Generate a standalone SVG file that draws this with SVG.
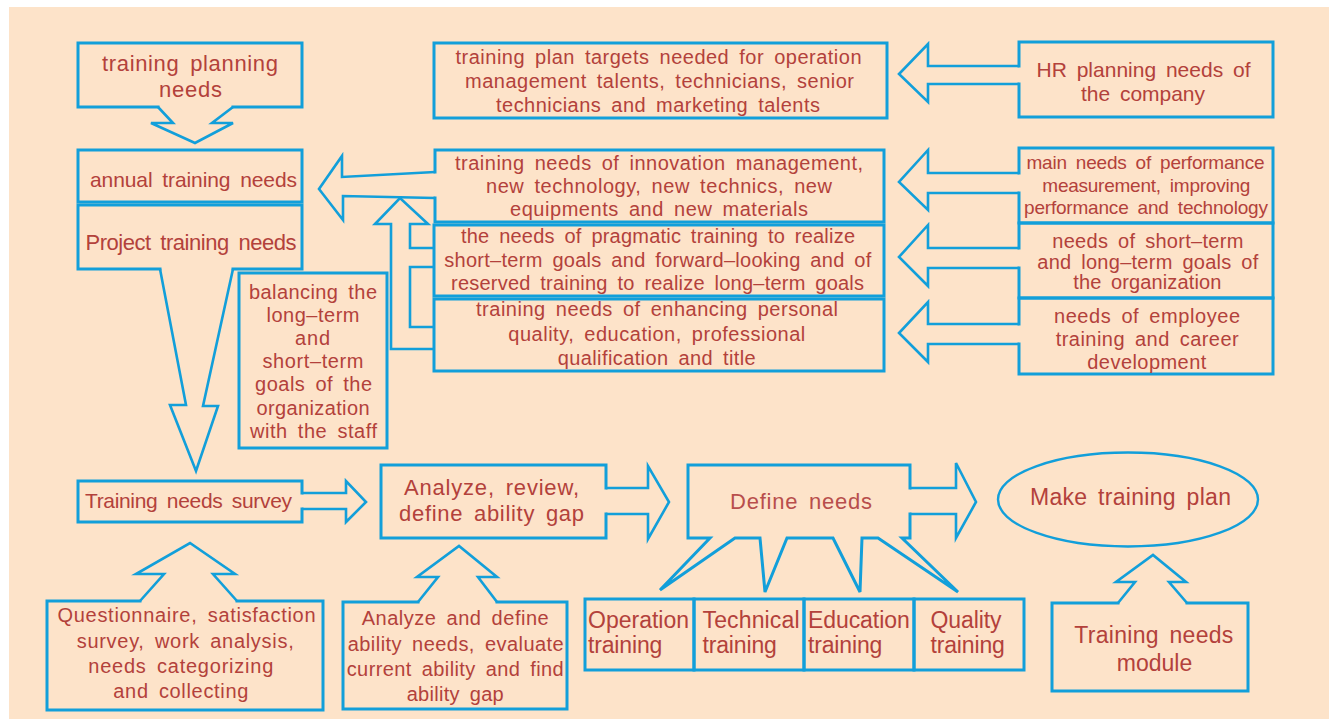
<svg xmlns="http://www.w3.org/2000/svg" width="1329" height="719" viewBox="0 0 1329 719">
<style>
.b{fill:none;stroke:#129FDA;stroke-width:3;stroke-linejoin:miter;stroke-linecap:square}
.a{fill:none;stroke:#129FDA;stroke-width:2.6;stroke-linejoin:miter;stroke-linecap:butt}
text{font-family:"Liberation Sans",Arial,Helvetica,sans-serif;fill:#B3413B;word-spacing:4px}
.s19{font-size:19px}.s20{font-size:20px}.s21{font-size:21px}.s22{font-size:22px}.s23{font-size:23px}
</style>
<rect x="0" y="0" width="1329" height="719" fill="#ffffff"/>
<rect x="9" y="7" width="1320" height="712" fill="#FDE3C9"/>

<g id="connectors">
<path class="a" d="M158,107 L173,123 H151 L195,143 L233,123 H212 L233,107"/>
<path class="a" d="M160,269 L186,405 H170 L196,471 L218,406 H203 L233,269"/>
<path class="a" d="M435,172 L342,177 V156 L319,189 L343,220 V196 L435,198"/>
<path class="a" d="M434,349 H391 V224 H375 L400,198 L428,224 H410 V248 H434 M434,267 H410 V327 H434"/>
<path class="a" d="M1019,66 H928 V44 L899,74 L928,102 V84 H1019"/>
<path class="a" d="M1019,173 H928 V150 L899,182 L928,210 V193 H1019"/>
<path class="a" d="M1019,248 H928 V225 L899,257 L928,286 V268 H1019"/>
<path class="a" d="M1019,324 H928 V302 L899,333 L928,362 V344 H1019"/>
<path class="a" d="M302,493 H346 V481 L366,502 L346,522 V509 H302"/>
<path class="a" d="M606,488 H648 V466 L669,502 L648,539 V514 H606"/>
<path class="a" d="M910,488 H956 V463 L976,502 L956,538 V514 H910"/>
<path class="a" d="M140,601 L164,574 H136 L190,543 L235,574 H213 L237,601"/>
<path class="a" d="M418,602 L438,577 H417 L459,546 L497,577 H478 L497,602"/>
<path class="a" d="M1118,603 L1135,582 H1116 L1153,555 L1186,582 H1169 L1187,603"/>
</g>

<g id="n-planning">
<path class="b" d="M158,107 H78 V43 H302 V107 H233"/>
<text class="s22" x="102" y="71" textLength="176" lengthAdjust="spacing">training planning</text>
<text class="s22" x="159" y="96.5" textLength="63" lengthAdjust="spacing">needs</text>
</g>
<g id="n-annual">
<rect class="b" x="78" y="150" width="224" height="52"/>
<text class="s21" x="90" y="186.5" textLength="207" lengthAdjust="spacing">annual training needs</text>
</g>
<g id="n-project">
<path class="b" d="M160,269 H78 V205 H302 V269 H233"/>
<text class="s22" x="85.5" y="250" textLength="211" lengthAdjust="spacing">Project training needs</text>
</g>
<g id="n-balancing">
<rect class="b" x="239" y="273" width="148" height="175"/>
<text class="s20" x="249" y="299" textLength="128" lengthAdjust="spacing">balancing the</text>
<text class="s20" x="266.5" y="321.5" textLength="93" lengthAdjust="spacing">long–term</text>
<text class="s20" x="295" y="345" textLength="35" lengthAdjust="spacing">and</text>
<text class="s20" x="262.5" y="368.3" textLength="101" lengthAdjust="spacing">short–term</text>
<text class="s20" x="255" y="391" textLength="117" lengthAdjust="spacing">goals of the</text>
<text class="s20" x="256.5" y="415" textLength="113" lengthAdjust="spacing">organization</text>
<text class="s20" x="250" y="438.3" textLength="127" lengthAdjust="spacing">with the staff</text>
</g>
<g id="n-targets">
<rect class="b" x="434" y="43" width="453" height="75"/>
<text class="s20" x="455.5" y="64" textLength="406" lengthAdjust="spacing">training plan targets needed for operation</text>
<text class="s20" x="465" y="88" textLength="389" lengthAdjust="spacing">management talents, technicians, senior</text>
<text class="s20" x="496" y="111.5" textLength="324" lengthAdjust="spacing">technicians and marketing talents</text>
</g>
<g id="n-innovation">
<path class="b" d="M435,172 V150 H884 V222 H435 V198"/>
<text class="s20" x="455" y="170" textLength="408" lengthAdjust="spacing">training needs of innovation management,</text>
<text class="s20" x="486" y="192.7" textLength="346" lengthAdjust="spacing">new technology, new technics, new</text>
<text class="s20" x="510" y="216" textLength="298" lengthAdjust="spacing">equipments and new materials</text>
</g>
<g id="n-pragmatic">
<rect class="b" x="434" y="225" width="450" height="71"/>
<text class="s20" x="461" y="243.3" textLength="394" lengthAdjust="spacing">the needs of pragmatic training to realize</text>
<text class="s20" x="444.3" y="266.7" textLength="427" lengthAdjust="spacing">short–term goals and forward–looking and of</text>
<text class="s20" x="451" y="290" textLength="413" lengthAdjust="spacing">reserved training to realize long–term goals</text>
</g>
<g id="n-enhancing">
<rect class="b" x="434" y="299" width="450" height="72"/>
<text class="s20" x="476" y="316" textLength="362" lengthAdjust="spacing">training needs of enhancing personal</text>
<text class="s20" x="508.3" y="341" textLength="297" lengthAdjust="spacing">quality, education, professional</text>
<text class="s20" x="557.7" y="365" textLength="198" lengthAdjust="spacing">qualification and title</text>
</g>
<g id="n-hr">
<path class="b" d="M1019,66 V42 H1273 V117 H1019 V84"/>
<text class="s21" x="1036.5" y="77.3" textLength="214" lengthAdjust="spacing">HR planning needs of</text>
<text class="s21" x="1081" y="100.7" textLength="124" lengthAdjust="spacing">the company</text>
</g>
<g id="n-performance">
<path class="b" d="M1019,173 V148 H1273 V223 H1019 V193"/>
<text class="s19" x="1026.5" y="169.3" textLength="238" lengthAdjust="spacing">main needs of performance</text>
<text class="s19" x="1042.3" y="192.3" textLength="208" lengthAdjust="spacing">measurement, improving</text>
<text class="s19" x="1024" y="214" textLength="244" lengthAdjust="spacing">performance and technology</text>
</g>
<g id="n-goals">
<path class="b" d="M1019,248 V223 H1273 V298 H1019 V268"/>
<text class="s20" x="1052.3" y="248.3" textLength="191" lengthAdjust="spacing">needs of short–term</text>
<text class="s20" x="1037.3" y="269.3" textLength="221" lengthAdjust="spacing">and long–term goals of</text>
<text class="s20" x="1073.3" y="289.3" textLength="148" lengthAdjust="spacing">the organization</text>
</g>
<g id="n-employee">
<path class="b" d="M1019,324 V298 H1273 V374 H1019 V344"/>
<text class="s20" x="1054" y="323.3" textLength="186" lengthAdjust="spacing">needs of employee</text>
<text class="s20" x="1055.7" y="346" textLength="183" lengthAdjust="spacing">training and career</text>
<text class="s20" x="1087.3" y="369.3" textLength="119" lengthAdjust="spacing">development</text>
</g>
<g id="n-survey">
<path class="b" d="M302,493 V481 H78 V522 H302 V509"/>
<text class="s21" x="85" y="508.3" textLength="207" lengthAdjust="spacing">Training needs survey</text>
</g>
<g id="n-analyze">
<path class="b" d="M606,488 V465 H381 V538 H606 V514"/>
<text class="s22" x="404" y="495" textLength="175" lengthAdjust="spacing">Analyze, review,</text>
<text class="s22" x="399" y="521" textLength="185" lengthAdjust="spacing">define ability gap</text>
</g>
<g id="n-define">
<path class="b" d="M910,488 V465 H688 V538 H710 L660,590 L735,538 H760 L765,592 L787,538 H833 L860,592 L862,538 H878 L958,592 L902,538 H910 V514"/>
<text class="s22" x="730" y="509.3" textLength="142" lengthAdjust="spacing" style="fill:#B84E4C">Define needs</text>
</g>
<g id="n-plan">
<ellipse cx="1128" cy="499.5" rx="130" ry="47" fill="none" stroke="#129FDA" stroke-width="2.4"/>
<text class="s23" x="1030" y="505" textLength="201" lengthAdjust="spacing">Make training plan</text>
</g>
<g id="n-questionnaire">
<path class="b" d="M140,601 H47 V710 H323 V601 H237"/>
<text class="s20" x="57.5" y="621.7" textLength="258" lengthAdjust="spacing">Questionnaire, satisfaction</text>
<text class="s20" x="76.7" y="648.3" textLength="217" lengthAdjust="spacing">survey, work analysis,</text>
<text class="s20" x="88.3" y="673.3" textLength="185" lengthAdjust="spacing">needs categorizing</text>
<text class="s20" x="113.3" y="698.3" textLength="135" lengthAdjust="spacing">and collecting</text>
</g>
<g id="n-ability">
<path class="b" d="M418,602 H343 V709 H567 V602 H497"/>
<text class="s20" x="361.7" y="625" textLength="187" lengthAdjust="spacing">Analyze and define</text>
<text class="s20" x="347.7" y="650.7" textLength="216" lengthAdjust="spacing">ability needs, evaluate</text>
<text class="s20" x="346.7" y="675.7" textLength="217" lengthAdjust="spacing">current ability and find</text>
<text class="s20" x="406.7" y="700.7" textLength="97" lengthAdjust="spacing">ability gap</text>
</g>
<g id="n-operation">
<rect class="b" x="585" y="599" width="109" height="71"/>
<text class="s23" x="588" y="628.3" textLength="101" lengthAdjust="spacing">Operation</text>
<text class="s23" x="588" y="653.3" textLength="74.3" lengthAdjust="spacing">training</text>
</g>
<g id="n-technical">
<rect class="b" x="694" y="599" width="110" height="71"/>
<text class="s23" x="702.5" y="628.3" textLength="97" lengthAdjust="spacing">Technical</text>
<text class="s23" x="702.5" y="653.3" textLength="74.3" lengthAdjust="spacing">training</text>
</g>
<g id="n-education">
<rect class="b" x="804" y="599" width="110" height="71"/>
<text class="s23" x="808" y="628.3" textLength="101.7" lengthAdjust="spacing">Education</text>
<text class="s23" x="808" y="653.3" textLength="74.3" lengthAdjust="spacing">training</text>
</g>
<g id="n-quality">
<rect class="b" x="914" y="599" width="110" height="71"/>
<text class="s23" x="930.5" y="628.3" textLength="71" lengthAdjust="spacing">Quality</text>
<text class="s23" x="930.5" y="653.3" textLength="74.3" lengthAdjust="spacing">training</text>
</g>
<g id="n-module">
<path class="b" d="M1118,603 H1052 V691 H1248 V603 H1187"/>
<text class="s23" x="1074.3" y="643.3" textLength="159" lengthAdjust="spacing">Training needs</text>
<text class="s23" x="1116.7" y="670.7" textLength="75.6" lengthAdjust="spacing">module</text>
</g>
</svg>
